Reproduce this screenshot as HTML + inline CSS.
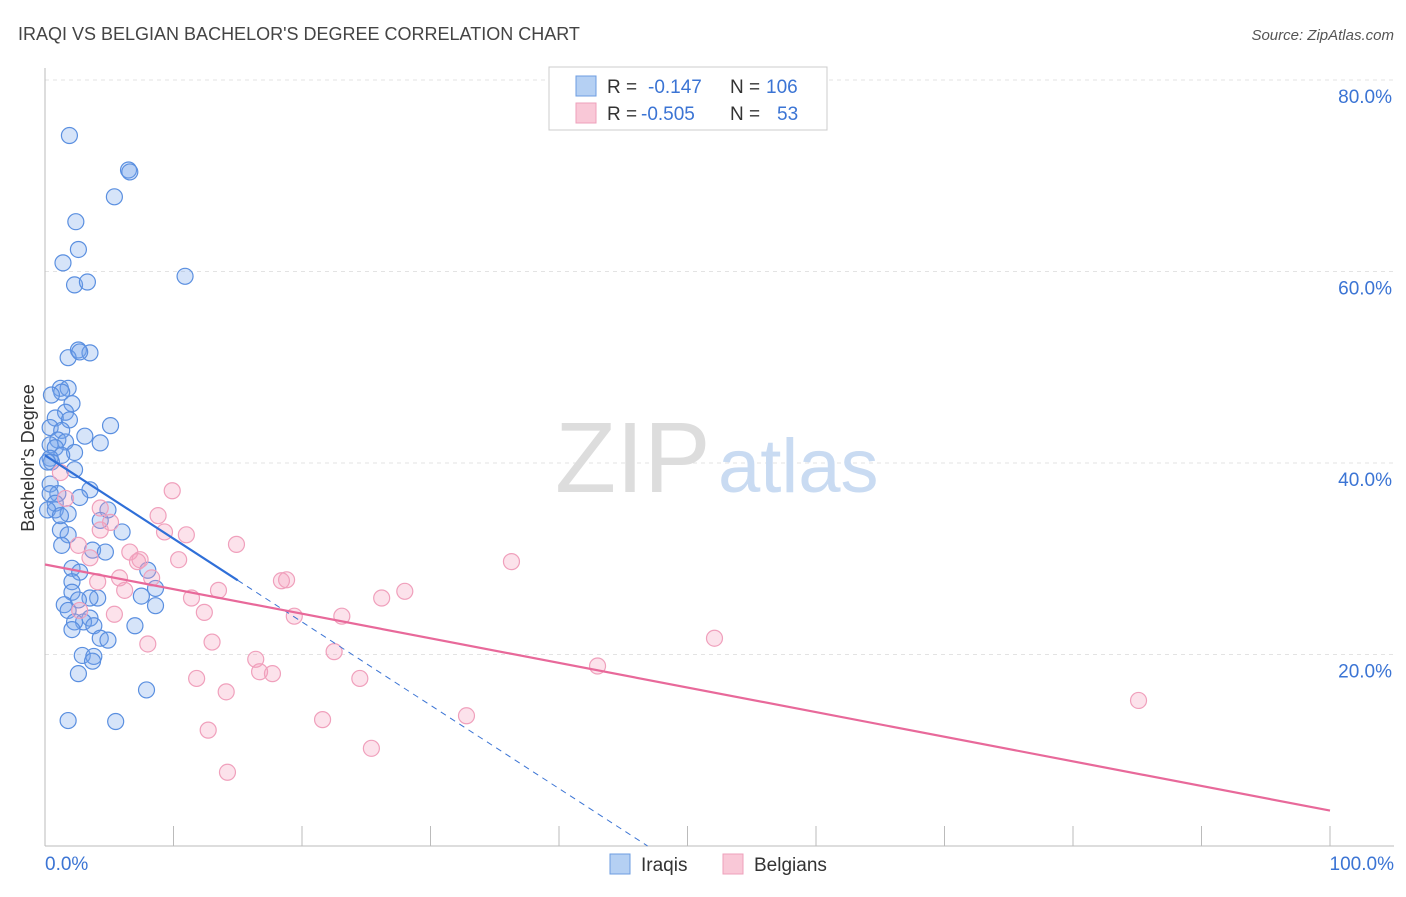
<!DOCTYPE html>
<html><head><meta charset="utf-8"><style>
body{margin:0;background:#fff;font-family:"Liberation Sans",sans-serif;}
svg text{font-family:"Liberation Sans",sans-serif;}
</style></head><body>
<svg id="chart" width="1406" height="892">
<text x="18" y="40" font-size="18" fill="#444">IRAQI VS BELGIAN BACHELOR'S DEGREE CORRELATION CHART</text>
<text x="1394" y="40" font-size="15" fill="#555" font-style="italic" text-anchor="end">Source: ZipAtlas.com</text>
<text x="34" y="458" font-size="18" fill="#333" transform="rotate(-90 34 458)" text-anchor="middle">Bachelor's Degree</text>
<g id="grid"></g>
<text x="555" y="492" font-size="100" fill="#ddd" font-family="Liberation Serif">ZIP</text>
<text x="718" y="492" font-size="76" fill="#c9dbf2">atlas</text>
<g id="points"></g>
<g id="lines"></g>
<g>
<rect x="549" y="67" width="278" height="63" fill="#fff" stroke="#ccc"/>
<rect x="576" y="76" width="20" height="20" fill="#b5d0f3" stroke="#6d9de0"/>
<text x="607" y="93" font-size="19" fill="#333">R = </text><text x="648" y="93" font-size="19" fill="#3b74d4">-0.147</text>
<text x="730" y="93" font-size="19" fill="#333">N = </text><text x="766" y="93" font-size="19" fill="#3b74d4">106</text>
<rect x="576" y="103" width="20" height="20" fill="#f9c8d7" stroke="#eea0bb"/>
<text x="607" y="120" font-size="19" fill="#333">R = </text><text x="641" y="120" font-size="19" fill="#3b74d4">-0.505</text>
<text x="730" y="120" font-size="19" fill="#333">N = </text><text x="777" y="120" font-size="19" fill="#3b74d4">53</text>
</g>
<g>
<rect x="610" y="854" width="20" height="20" fill="#b5d0f3" stroke="#6d9de0"/>
<text x="641" y="871" font-size="19" fill="#333">Iraqis</text>
<rect x="723" y="854" width="20" height="20" fill="#f9c8d7" stroke="#eea0bb"/>
<text x="754" y="871" font-size="19" fill="#333">Belgians</text>
</g>
</svg>
<script>
const yTicks=[20,40,60,80];
const yTickLabels=["20.0%","40.0%","60.0%","80.0%"];
const xTicks=[0,10,20,30,40,50,60,70,80,90,100];
const iraqiX=[1.9,6.5,6.6,5.4,2.4,2.6,1.4,10.9,2.3,3.3,2.6,3.5,1.8,2.7,1.2,1.8,1.3,0.5,2.1,1.6,0.8,1.9,5.1,0.4,1.3,3.1,1.0,1.6,4.3,0.4,0.8,2.3,1.3,0.4,0.5,2.3,3.5,0.4,1.0,2.7,0.8,1.8,4.9,4.3,1.2,6.0,1.8,1.3,3.7,4.7,2.1,2.7,8.0,2.1,2.1,7.5,4.1,3.5,2.6,1.5,8.6,8.6,1.8,3.5,3.0,2.3,2.1,3.8,7.0,4.3,4.9,2.9,3.8,3.7,2.6,7.9,1.8,5.5,0.2,0.4,0.8,0.2,1.2];
const iraqiY=[74.2,70.6,70.4,67.8,65.2,62.3,60.9,59.5,58.6,58.9,51.8,51.5,51.0,51.6,47.8,47.8,47.4,47.1,46.2,45.3,44.7,44.5,43.9,43.7,43.4,42.8,42.4,42.2,42.1,41.9,41.6,41.1,40.8,40.5,40.1,39.3,37.2,37.8,36.8,36.4,35.1,34.7,35.1,34.0,33.0,32.8,32.5,31.4,30.9,30.7,29.0,28.6,28.8,27.6,26.5,26.1,25.9,25.9,25.7,25.2,26.9,25.1,24.6,23.8,23.4,23.4,22.6,23.0,23.0,21.7,21.5,19.9,19.8,19.3,18.0,16.3,13.1,13.0,40.1,36.8,35.8,35.1,34.5];
const belgianX=[9.9,8.8,5.1,9.3,11.0,14.9,4.3,2.6,3.5,6.6,7.4,10.4,7.2,5.8,8.3,4.1,18.8,18.4,13.5,28.0,26.2,11.4,6.2,36.3,5.4,12.4,19.4,23.1,2.7,8.0,13.0,52.1,16.4,22.5,43.0,16.7,17.7,11.8,24.5,14.1,85.1,21.6,32.8,12.7,25.4,14.2,1.2,1.6,4.3];
const belgianY=[37.1,34.5,33.8,32.8,32.5,31.5,33.0,31.4,30.1,30.7,29.9,29.9,29.7,28.0,28.0,27.6,27.8,27.7,26.7,26.6,25.9,25.9,26.7,29.7,24.2,24.4,24.0,24.0,24.6,21.1,21.3,21.7,19.5,20.3,18.8,18.2,18.0,17.5,17.5,16.1,15.2,13.2,13.6,12.1,10.2,7.7,39.0,36.3,35.3];
const iraqiTrend=[40.8,-0.87];
const belgianTrend=[29.4,-0.257];
const NS="http://www.w3.org/2000/svg";
const xs=v=>45+v*12.85, ys=v=>846-v*9.575;
function mk(t,a,p){const e=document.createElementNS(NS,t);for(const k in a)e.setAttribute(k,a[k]);p.appendChild(e);return e;}
const grid=document.getElementById('grid');
yTicks.forEach((t,i)=>{
 const l=mk('line',{x1:45,x2:1394,y1:ys(t),y2:ys(t),stroke:'#e3e3e3','stroke-dasharray':'4,4'},grid);
 
 
 const tx=mk('text',{x:1392,y:ys(t)+23,'font-size':19,fill:'#3b74d4','text-anchor':'end'},grid);
 tx.textContent=yTickLabels[i];
 
 
});
const ax=mk('line',{x1:45,x2:1394,y1:846,y2:846,stroke:'#bbb'},grid);


const ay=mk('line',{x1:45,x2:45,y1:68,y2:846,stroke:'#bbb'},grid);


xTicks.forEach(t=>{const l=mk('line',{x1:xs(t),x2:xs(t),y1:826,y2:846,stroke:'#bbb'},grid);
 
 });
const x0=mk('text',{x:45,y:870,'font-size':19,fill:'#3b74d4'},grid);x0.textContent='0.0%';


const x1=mk('text',{x:1394,y:870,'font-size':19,fill:'#3b74d4','text-anchor':'end'},grid);x1.textContent='100.0%';


const pts=document.getElementById('points');
iraqiX.forEach((v,i)=>{const c=mk('circle',{cx:xs(v),cy:ys(iraqiY[i]),r:8,fill:'rgba(120,165,235,0.3)',stroke:'#5a8fe0','stroke-width':1.2},pts);
 
 });
belgianX.forEach((v,i)=>{const c=mk('circle',{cx:xs(v),cy:ys(belgianY[i]),r:8,fill:'rgba(245,160,190,0.3)',stroke:'#f0a0bc','stroke-width':1.2},pts);
 
 });
const ln=document.getElementById('lines');
const f=(tr,x)=>tr[0]+tr[1]*x;
const xEnd=-iraqiTrend[0]/iraqiTrend[1];
const bd=mk('line',{x1:xs(15),y1:ys(f(iraqiTrend,15)),x2:xs(xEnd),y2:ys(0),stroke:'#3b74d4','stroke-width':1,'stroke-dasharray':'6,5'},ln);


const bl=mk('line',{x1:xs(0),y1:ys(f(iraqiTrend,0)),x2:xs(15),y2:ys(f(iraqiTrend,15)),stroke:'#2f6fd8','stroke-width':2.2},ln);


const pl=mk('line',{x1:xs(0),y1:ys(f(belgianTrend,0)),x2:xs(100),y2:ys(f(belgianTrend,100)),stroke:'#e8699a','stroke-width':2.2},ln);


</script>
</body></html>
